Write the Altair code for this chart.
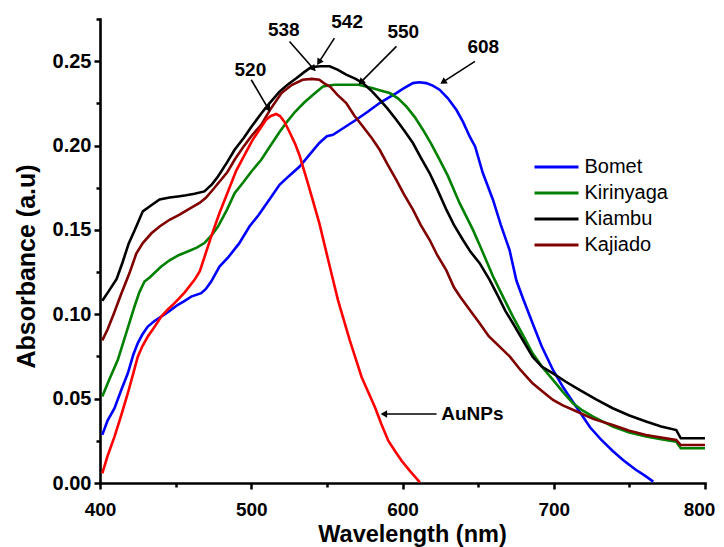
import altair as alt
import pandas as pd

# ---------------- data ----------------
series_names = ["Bomet", "Kirinyaga", "Kiambu", "Kajiado"]
series_colors = ["#0000FF", "#008000", "#000000", "#800000"]

bomet_nm = [401.5, 405, 409.6, 414, 418.4, 422, 425, 428, 431.6, 436, 440.5, 446, 451.5, 456, 460.3,
            466.9, 470, 473.5, 479, 485, 492, 498.8, 505, 512, 518.7, 525, 532, 538, 545, 550, 554,
            562, 569.4, 577, 584.9, 590, 595.9, 601, 606.9, 611, 615.7, 620, 624.5, 630, 635.6, 640,
            644.4, 648, 653, 659.8, 665, 670.8, 675.3, 679.6, 686, 692, 699.5, 706, 712.7, 718, 724,
            731, 739, 746, 754, 760, 765.8]
bomet_abs = [0.0285, 0.037, 0.0443, 0.055, 0.065, 0.076, 0.0829, 0.088, 0.0927, 0.096, 0.0986, 0.102,
             0.1056, 0.108, 0.1105, 0.1125, 0.115, 0.1194, 0.1283, 0.134, 0.142, 0.152, 0.159, 0.168,
             0.1767, 0.182, 0.1876, 0.194, 0.2015, 0.2055, 0.2064, 0.211, 0.2153, 0.220, 0.2252, 0.228,
             0.2311, 0.234, 0.237, 0.2375, 0.237, 0.2355, 0.2331, 0.228, 0.2212, 0.214, 0.2054, 0.1995,
             0.184, 0.1679, 0.153, 0.138, 0.120, 0.1095, 0.0947, 0.081, 0.067, 0.057, 0.048, 0.041,
             0.033, 0.026, 0.019, 0.0135, 0.008, 0.0045, 0.0008]

kirinyaga_nm = [401.5, 406, 411.8, 417, 422.8, 426, 429.4, 433, 440.5, 446, 452, 458, 464, 469, 474,
                478, 484, 489, 495, 500, 506.6, 512, 518.7, 524, 529, 535, 540.7, 547.4, 555, 562.8,
                571, 580.4, 586, 591.5, 597, 602.5, 608, 613.5, 619, 624.5, 630, 637.7, 646.6, 652,
                659.8, 666.4, 673, 680, 686, 693, 699.5, 706, 712.7, 719, 726, 739, 750, 761, 771, 781,
                784, 800]
kirinyaga_abs = [0.0512, 0.061, 0.073, 0.088, 0.1046, 0.113, 0.1194, 0.122, 0.1283, 0.132, 0.135, 0.1372,
                 0.1395, 0.1422, 0.147, 0.152, 0.162, 0.1718, 0.1785, 0.1845, 0.1916, 0.199, 0.208,
                 0.2145, 0.220, 0.2255, 0.230, 0.235, 0.236, 0.236, 0.236, 0.234, 0.2325, 0.2311, 0.228,
                 0.2232, 0.217, 0.2094, 0.201, 0.1916, 0.182, 0.166, 0.150, 0.139, 0.1225, 0.1105,
                 0.0986, 0.087, 0.0769, 0.068, 0.0611, 0.054, 0.0473, 0.043, 0.0393, 0.0334, 0.030,
                 0.0275, 0.026, 0.0245, 0.0206, 0.0206]

kiambu_nm = [401.5, 406, 411, 415, 419, 423, 428.3, 433, 439.4, 446, 451.5, 457, 462.5, 469, 474, 478,
             484, 489, 495, 500, 506.6, 512, 518.7, 524, 530, 535, 539.7, 546, 551.8, 557, 562.8, 569,
             573.8, 580, 584.9, 590, 595.9, 601, 606.9, 612, 617.9, 623, 629, 634, 640, 645, 651, 657.6,
             663, 668, 673, 680, 686, 692, 699.5, 708, 717, 728, 739, 750, 761, 771, 781, 784, 800]
kiambu_abs = [0.108, 0.114, 0.121, 0.131, 0.142, 0.150, 0.161, 0.164, 0.168, 0.1692, 0.1698, 0.1705,
              0.1714, 0.1728, 0.177, 0.1817, 0.190, 0.1975, 0.2045, 0.211, 0.219, 0.225, 0.232, 0.236,
              0.240, 0.2435, 0.2466, 0.247, 0.247, 0.245, 0.242, 0.2395, 0.237, 0.232, 0.2272, 0.222,
              0.2153, 0.209, 0.2015, 0.193, 0.1837, 0.174, 0.162, 0.153, 0.144, 0.137, 0.1303, 0.1204,
              0.111, 0.102, 0.0947, 0.084, 0.0749, 0.069, 0.065, 0.060, 0.0552, 0.0495, 0.0443, 0.040,
              0.0364, 0.0335, 0.0314, 0.0265, 0.0265]

kajiado_nm = [401.5, 405, 409, 414, 419.5, 424, 428.3, 434, 439.4, 446, 452.6, 459, 465.8, 470, 474.6,
              478, 484, 489, 495, 500, 506.6, 513, 520, 527, 534, 540, 545, 548, 552, 557, 562.8, 568,
              573.8, 580, 584.9, 590, 595.9, 601, 606.9, 612, 618, 623, 629, 634, 638, 645, 651, 657,
              664, 671, 678, 686, 693, 699.5, 706, 713, 726, 739, 750, 761, 771, 781, 784, 800]
kajiado_abs = [0.0845, 0.091, 0.100, 0.112, 0.1244, 0.136, 0.1422, 0.148, 0.152, 0.156, 0.159, 0.1625,
               0.166, 0.169, 0.1738, 0.1775, 0.184, 0.1916, 0.1995, 0.2055, 0.2123, 0.222, 0.2311, 0.236,
               0.239, 0.2395, 0.239, 0.237, 0.235, 0.230, 0.2252, 0.218, 0.2113, 0.204, 0.1975, 0.189,
               0.1797, 0.171, 0.162, 0.153, 0.144, 0.135, 0.126, 0.116, 0.1105, 0.102, 0.0947, 0.087,
               0.081, 0.0749, 0.067, 0.0591, 0.054, 0.0492, 0.046, 0.0433, 0.038, 0.0344, 0.031, 0.0285,
               0.027, 0.0255, 0.0225, 0.0225]

aunps_nm = [401.5, 405, 409.6, 414, 418.4, 422, 425, 428, 431.6, 436, 440.5, 445, 449.3, 456, 462.5,
            466, 473.5, 479, 484.5, 490, 495.6, 501, 506.6, 510, 513, 516.5, 519, 522, 525.3, 529, 532,
            538, 545, 552, 557.3, 565, 573, 581.8, 586, 590.6, 595, 599.4, 605, 611.5]
aunps_abs = [0.0057, 0.016, 0.0275, 0.040, 0.0532, 0.065, 0.0749, 0.081, 0.0868, 0.0925, 0.0986, 0.103,
             0.1066, 0.113, 0.1204, 0.1255, 0.146, 0.160, 0.1725, 0.185, 0.1945, 0.2035, 0.211, 0.2155,
             0.2175, 0.2187, 0.2175, 0.214, 0.208, 0.201, 0.194, 0.176, 0.154, 0.128, 0.1085, 0.085,
             0.0627, 0.0449, 0.035, 0.0251, 0.019, 0.0132, 0.007, 0.0004]

# peak annotations
ann_labels = ["520", "538", "542", "550", "608", "AuNPs"]
ann_text_nm = [499.4, 521.5, 563.4, 600.5, 653.4, 646.2]
ann_text_abs = [0.245, 0.2685, 0.2731, 0.2674, 0.2583, 0.0409]
arrow_tail_nm = [500, 525.3, 555, 596, 647.9, 622.5]
arrow_tail_abs = [0.239, 0.2617, 0.2637, 0.2588, 0.2499, 0.0409]
arrow_head_nm = [511, 540.7, 545.1, 573, 627.4, 588.4]
arrow_head_abs = [0.2222, 0.246, 0.2499, 0.238, 0.238, 0.0409]
arrow_angle = [149.6, 138.8, 212.7, 225, 237.2, 270]

x_ticks = [400, 450, 500, 550, 600, 650, 700, 750, 800]
y_ticks = [0, 0.025, 0.05, 0.075, 0.1, 0.125, 0.15, 0.175, 0.2, 0.225, 0.25, 0.275]

# ---------------- tables ----------------
rows = []
for name, xs, ys in zip(series_names,
                        [bomet_nm, kirinyaga_nm, kiambu_nm, kajiado_nm],
                        [bomet_abs, kirinyaga_abs, kiambu_abs, kajiado_abs]):
    for x, y in zip(xs, ys):
        rows.append({"series": name, "nm": x, "abs": y})
df = pd.DataFrame(rows)
df_au = pd.DataFrame({"nm": aunps_nm, "abs": aunps_abs})
df_ann = pd.DataFrame({"label": ann_labels, "nm": ann_text_nm, "abs": ann_text_abs})
df_arr = pd.DataFrame({"nm": arrow_tail_nm, "abs": arrow_tail_abs,
                       "nm2": arrow_head_nm, "abs2": arrow_head_abs})
df_head = pd.DataFrame({"nm": arrow_head_nm, "abs": arrow_head_abs, "ang": arrow_angle})

FONT = "Liberation Sans"

x_axis = alt.Axis(
    values=x_ticks,
    labelExpr="datum.value % 100 == 0 ? datum.label : ''",
    title="Wavelength (nm)",
    titleFontSize=23.5, titleFont=FONT, titleFontWeight="bold", titleColor="#000",
    titleX=312, titleY=58.7, titleBaseline="alphabetic",
    labelFontSize=19, labelFont=FONT, labelFontWeight="bold", labelColor="#000",
    labelPadding=11, labelFlush=False,
    labelOffset={"condition": {"test": "datum.value == 800", "value": -6}, "value": 0},
    tickSize={"condition": {"test": "datum.value % 100 == 0", "value": 6}, "value": 4},
    tickWidth=2.5, tickColor="#000",
    domainWidth=2.6, domainColor="#000", domainCap="square",
    grid=False,
)
y_axis = alt.Axis(
    values=y_ticks,
    labelExpr="round(datum.value*1000) % 50 == 0 ? format(datum.value, '.2f') : ''",
    title="Absorbance (a.u)",
    titleFontSize=25, titleFont=FONT, titleFontWeight="bold", titleColor="#000",
    titleX=-65.5, titleY=247, titleBaseline="alphabetic", titleAngle=270, titleAlign="center",
    labelFontSize=20, labelFont=FONT, labelFontWeight="bold", labelColor="#000",
    labelPadding=3, labelFlush=False,
    tickSize={"condition": {"test": "round(datum.value*1000) % 50 == 0", "value": 6}, "value": 4},
    tickWidth=2.5, tickColor="#000",
    domainWidth=2.6, domainColor="#000", domainCap="square",
    grid=False,
)

X = alt.X("nm:Q", scale=alt.Scale(domain=[400, 800], nice=False, zero=False), axis=x_axis)
Y = alt.Y("abs:Q", scale=alt.Scale(domain=[0, 0.275], nice=False, zero=False), axis=y_axis)

lines = alt.Chart(df).mark_line(strokeWidth=2.6).encode(
    x=X, y=Y,
    color=alt.Color(
        "series:N",
        scale=alt.Scale(domain=series_names, range=series_colors),
        legend=alt.Legend(
            title=None, orient="none", legendX=446.5, legendY=138,
            symbolType="M-2.75,0H2.75", symbolSize=256, symbolStrokeWidth=3,
            labelFont=FONT, labelFontSize=20, labelColor="#000", labelOffset=18,
            rowPadding=6, padding=0,
        ),
    ),
)

red = alt.Chart(df_au).mark_line(strokeWidth=2.6, color="#FF0000").encode(x=X, y=Y)

arrows = alt.Chart(df_arr).mark_rule(strokeWidth=1.6, color="#000").encode(
    x=X, y=Y, x2="nm2:Q", y2="abs2:Q"
)
heads = alt.Chart(df_head).mark_point(shape="triangle", filled=True, size=55, color="#000", opacity=1).encode(
    x=X, y=Y, angle=alt.Angle("ang:Q", scale=None)
)
texts = alt.Chart(df_ann).mark_text(
    font=FONT, fontSize=19, fontWeight="bold", color="#000", baseline="middle", align="center"
).encode(x=X, y=Y, text="label:N")

chart = alt.layer(lines, red, arrows, heads, texts).properties(
    width=605, height=464,
    padding={"left": 92, "top": 11, "right": 11, "bottom": 66},
    autosize=alt.AutoSizeParams(type="none"),
).configure_view(stroke=None)

chart.save("out.html", embed_options={"renderer": "svg", "actions": False})
